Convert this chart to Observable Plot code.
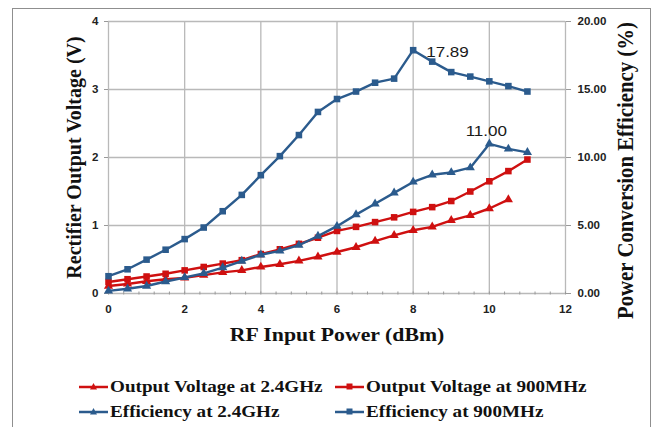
<!DOCTYPE html>
<html>
<head>
<meta charset="utf-8">
<script src="https://cdn.jsdelivr.net/npm/d3@7"></script>
<script src="https://cdn.jsdelivr.net/npm/@observablehq/plot@0.6"></script>
<style>
  html, body { margin: 0; padding: 0; background: #fff; }
  #wrap { position: relative; width: 656px; height: 427px; overflow: hidden; background: #fff; }
  #border { position: absolute; left: 12px; top: 8px; width: 639px; height: 440px; border: 1.5px solid #8f8f8f; box-sizing: border-box; pointer-events: none; }
  #legend { position: absolute; left: 0; top: 0; width: 656px; height: 427px; pointer-events: none;
            font-family: "Liberation Serif", "Times New Roman", serif; font-weight: bold; font-size: 17.4px; color: #111; }
  .item { position: absolute; display: flex; align-items: center; white-space: nowrap; }
  .item svg { margin-right: 2px; flex: none; }
  .item span { display: inline-block; transform: scaleX(1.1); transform-origin: 0 50%; }
</style>
</head>
<body>
<div id="wrap">
  <div id="chart"></div>
  <div id="legend"></div>
  <div id="border"></div>
</div>
<script>
// ---- data ----
const rfPower = [0,0.5,1,1.5,2,2.5,3,3.5,4,4.5,5,5.5,6,6.5,7,7.5,8,8.5,9,9.5,10,10.5,11];
// Output voltage (V)
const voltage24 = [0.11,0.14,0.18,0.21,0.23,0.27,0.31,0.34,0.39,0.43,0.48,0.54,0.61,0.68,0.77,0.855,0.93,0.98,1.075,1.15,1.25,1.38];
const voltage900 = [0.17,0.21,0.25,0.29,0.34,0.39,0.44,0.49,0.58,0.65,0.73,0.82,0.92,0.98,1.05,1.12,1.2,1.27,1.36,1.5,1.65,1.8,1.97];
// Power conversion efficiency (%)
const eff24 = [0.19,0.35,0.55,0.88,1.18,1.48,1.9,2.38,2.85,3.13,3.55,4.22,4.95,5.8,6.6,7.4,8.2,8.73,8.9,9.25,11.0,10.63,10.38];
const eff900 = [1.27,1.78,2.49,3.22,4.0,4.85,6.05,7.25,8.7,10.1,11.65,13.35,14.3,14.85,15.5,15.8,17.89,17.05,16.28,15.95,15.6,15.25,14.85];
// axes
const xTicks = [0,2,4,6,8,10,12];
const yTicks = [0,1,2,3,4];          // voltage axis (V)
const effMax = 20;                   // right axis max (%) aligned with 4 V
const vMax = 4;
const seriesNames = ["Output Voltage at 2.4GHz","Output Voltage at 900MHz","Efficiency at 2.4GHz","Efficiency at 900MHz"];
const titles = {left: "Rectifier Output Voltage (V)", right: "Power Conversion Efficiency (%)", bottom: "RF Input Power (dBm)"};

const RED = "#cf1010", BLUE = "#2b5b8d";
const k = effMax / vMax;
const STRETCH = 1.1;

const rowsV24 = voltage24.map((v,i)=>({x: rfPower[i], y: v}));
const rowsV900 = voltage900.map((v,i)=>({x: rfPower[i], y: v}));
const rowsE24 = eff24.map((v,i)=>({x: rfPower[i], eff: v, y: v / k}));
const rowsE900 = eff900.map((v,i)=>({x: rfPower[i], eff: v, y: v / k}));

const minor = d3.range(0, 60.5, 2).map(i => i / 5); // every 0.4

const gridStyle = {stroke: "#b9b9b9", strokeOpacity: 1, strokeWidth: 1.3};
const serif = "'Liberation Serif', 'Times New Roman', serif";

const chart = Plot.plot({
  width: 656, height: 427,
  marginLeft: 108, marginRight: 91, marginTop: 21, marginBottom: 134,
  x: {domain: [0, 12]},
  y: {domain: [0, vMax]},
  style: {fontFamily: "'Liberation Sans', Arial, sans-serif", fontSize: "10.5px", fontWeight: "bold", color: "#222", background: "transparent", overflow: "visible"},
  marks: [
    Plot.gridY({ticks: [1,2,3,4], ...gridStyle}),
    Plot.gridX({ticks: [2,4,6,8,10], ...gridStyle}),
    Plot.ruleX([0, 12], gridStyle),
    Plot.ruleY([0], gridStyle),
    Plot.axisY({ticks: yTicks, tickSize: 4, tickPadding: 6, label: null, stroke: "#999", tickFormat: d => String(d)}),
    Plot.axisY({anchor: "right", ticks: yTicks, tickSize: 5, tickPadding: 7, label: null, stroke: "#999",
                tickFormat: d => (d * k).toFixed(2)}),
    Plot.axisX({ticks: minor, tickSize: 3, tickFormat: () => "", label: null, stroke: "#999", dy: -1.5}),
    Plot.axisX({ticks: xTicks, tickSize: 0, tickPadding: 12, label: null, tickFormat: d => String(d)}),
    // series
    Plot.line(rowsV24, {x: "x", y: "y", stroke: RED, strokeWidth: 2.4}),
    Plot.dot(rowsV24, {x: "x", y: "y", symbol: "triangle", r: 3.4, fill: RED}),
    Plot.line(rowsV900, {x: "x", y: "y", stroke: RED, strokeWidth: 2.4}),
    Plot.dot(rowsV900, {x: "x", y: "y", symbol: "square", r: 3.7, fill: RED}),
    Plot.line(rowsE24, {x: "x", y: "y", stroke: BLUE, strokeWidth: 2.4}),
    Plot.dot(rowsE24, {x: "x", y: "y", symbol: "triangle", r: 3.4, fill: BLUE}),
    Plot.line(rowsE900, {x: "x", y: "y", stroke: BLUE, strokeWidth: 2.4}),
    Plot.dot(rowsE900, {x: "x", y: "y", symbol: "square", r: 3.7, fill: BLUE}),
    // peak labels
    Plot.text(rowsE900, Plot.selectMaxY({x: "x", y: "y", text: d => d.eff.toFixed(2), dx: 13, dy: 2,
      textAnchor: "start", fontSize: 15.5, fontWeight: "normal", fill: "#1a1a1a"})),
    Plot.text(rowsE24, Plot.selectMaxY({x: "x", y: "y", text: d => d.eff.toFixed(2), dx: -3, dy: -13,
      textAnchor: "middle", fontSize: 15.5, fontWeight: "normal", fill: "#1a1a1a"})),
    // axis titles
    Plot.text([titles.left], {text: d => d, frameAnchor: "left", rotate: -90, dx: -35, textAnchor: "middle", lineAnchor: "middle",
      fontFamily: serif, fontSize: 20, fontWeight: "bold", fill: "#111"}),
    Plot.text([titles.right], {text: d => d, frameAnchor: "right", rotate: -90, dx: 60, dy: 13, textAnchor: "middle", lineAnchor: "middle",
      fontFamily: serif, fontSize: 20.8, fontWeight: "bold", fill: "#111"}),
    Plot.text([titles.bottom], {text: d => d, frameAnchor: "bottom", dy: 41, textAnchor: "middle", lineAnchor: "middle",
      fontFamily: serif, fontSize: 19.8, fontWeight: "bold", fill: "#111"})
  ]
});
document.getElementById("chart").appendChild(chart);

// the reference artwork is slightly stretched horizontally: widen glyphs in screen-x
d3.select(chart).selectAll("text").each(function() {
  const tr = this.getAttribute("transform") || "";
  if (/rotate\(\s*-?90/.test(tr)) {
    this.setAttribute("transform", tr + ` scale(1,${STRETCH})`);
  } else if (this.textContent) {
    const len = this.getComputedTextLength();
    if (len > 0) {
      this.setAttribute("textLength", len * STRETCH);
      this.setAttribute("lengthAdjust", "spacingAndGlyphs");
    }
  }
});

// legend
const legendSpec = [
  {name: seriesNames[0], color: RED, sym: "triangle", left: 79, top: 386},
  {name: seriesNames[1], color: RED, sym: "square", left: 335, top: 386},
  {name: seriesNames[2], color: BLUE, sym: "triangle", left: 79, top: 411},
  {name: seriesNames[3], color: BLUE, sym: "square", left: 335, top: 411}
];
const leg = document.getElementById("legend");
for (const s of legendSpec) {
  const div = document.createElement("div");
  div.className = "item";
  div.style.left = s.left + "px";
  div.style.top = (s.top - 11) + "px";
  div.style.height = "22px";
  const marker = s.sym === "square"
    ? `<rect x="11.5" y="4.5" width="6" height="6" fill="${s.color}"/>`
    : `<path d="M14.5,4 L18,10.5 L11,10.5 Z" fill="${s.color}"/>`;
  div.innerHTML = `<svg width="29" height="15" viewBox="0 0 29 15"><line x1="0" y1="8" x2="29" y2="8" stroke="${s.color}" stroke-width="2.5"/>${marker}</svg><span>${s.name}</span>`;
  leg.appendChild(div);
}
</script>
</body>
</html>
